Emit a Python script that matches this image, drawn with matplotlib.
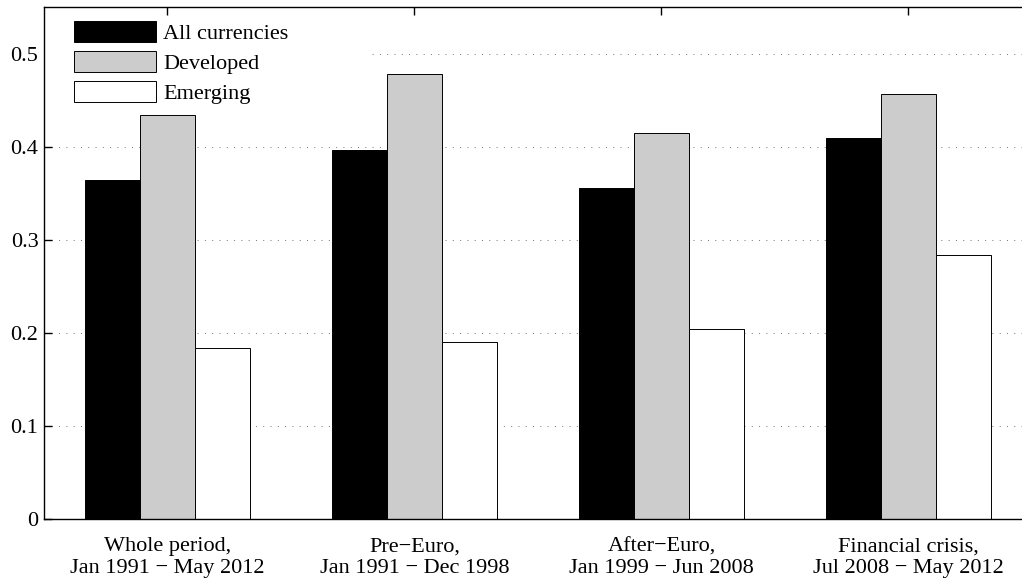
import numpy as np
import matplotlib.pyplot as plt
from matplotlib.patches import Patch, Rectangle

# Data
periods = ['Whole period,\nJan 1991 \u2212 May 2012',
           'Pre\u2212Euro,\nJan 1991 \u2212 Dec 1998',
           'After\u2212Euro,\nJan 1999 \u2212 Jun 2008',
           'Financial crisis,\nJul 2008 \u2212 May 2012']
all_currencies = [0.364, 0.397, 0.356, 0.409]
developed = [0.434, 0.478, 0.415, 0.457]
emerging = [0.184, 0.190, 0.204, 0.284]

series = [('All currencies', all_currencies, 'black'),
          ('Developed', developed, '#cccccc'),
          ('Emerging', emerging, 'white')]

plt.rcParams['font.family'] = ['Liberation Serif', 'DejaVu Serif']
plt.rcParams['font.size'] = 16

fig = plt.figure(figsize=(10.22, 5.86), dpi=100)
ax = fig.add_axes([0.04305, 0.1138, 0.9667, 0.8742])

x = np.arange(1, len(periods) + 1)
width = 2.0 / 9
for i, (name, vals, col) in enumerate(series):
    ax.bar(x + (i - 1) * width, vals, width, color=col, edgecolor='black',
           linewidth=0.7, label=name, zorder=2)

ax.set_xlim(0.5, 4.5)
ax.set_ylim(0, 0.55)
ax.set_yticks(np.arange(0, 0.51, 0.1))
ax.set_yticklabels(['0', '0.1', '0.2', '0.3', '0.4', '0.5'])
ax.set_xticks(x)
ax.set_xticklabels(periods, linespacing=1.17)

ax.set_axisbelow(True)
ax.yaxis.grid(True, linestyle=(0, (1, 6.5)), linewidth=0.7, color='0.45')
ax.tick_params(direction='in', length=6, width=1.0, top=True, right=True)
ax.tick_params(axis='x', pad=13)
ax.tick_params(axis='y', pad=4)
for s in ax.spines.values():
    s.set_linewidth(1.0)

# white area behind the legend (as in the original)
ax.add_patch(Rectangle((0, 0.84), 0.332, 0.14, transform=ax.transAxes,
                       facecolor='white', edgecolor='none', zorder=1))

handles = [Patch(facecolor=c, edgecolor='black', linewidth=0.7) for _, _, c in series]
ax.legend(handles, [n for n, _, _ in series], loc='upper left',
          bbox_to_anchor=(0.0304, 0.972), frameon=False, borderpad=0,
          borderaxespad=0, handlelength=3.7, handleheight=1.05,
          labelspacing=0.32, handletextpad=0.32, fontsize=16)

fig.savefig('out.png', dpi=100)
